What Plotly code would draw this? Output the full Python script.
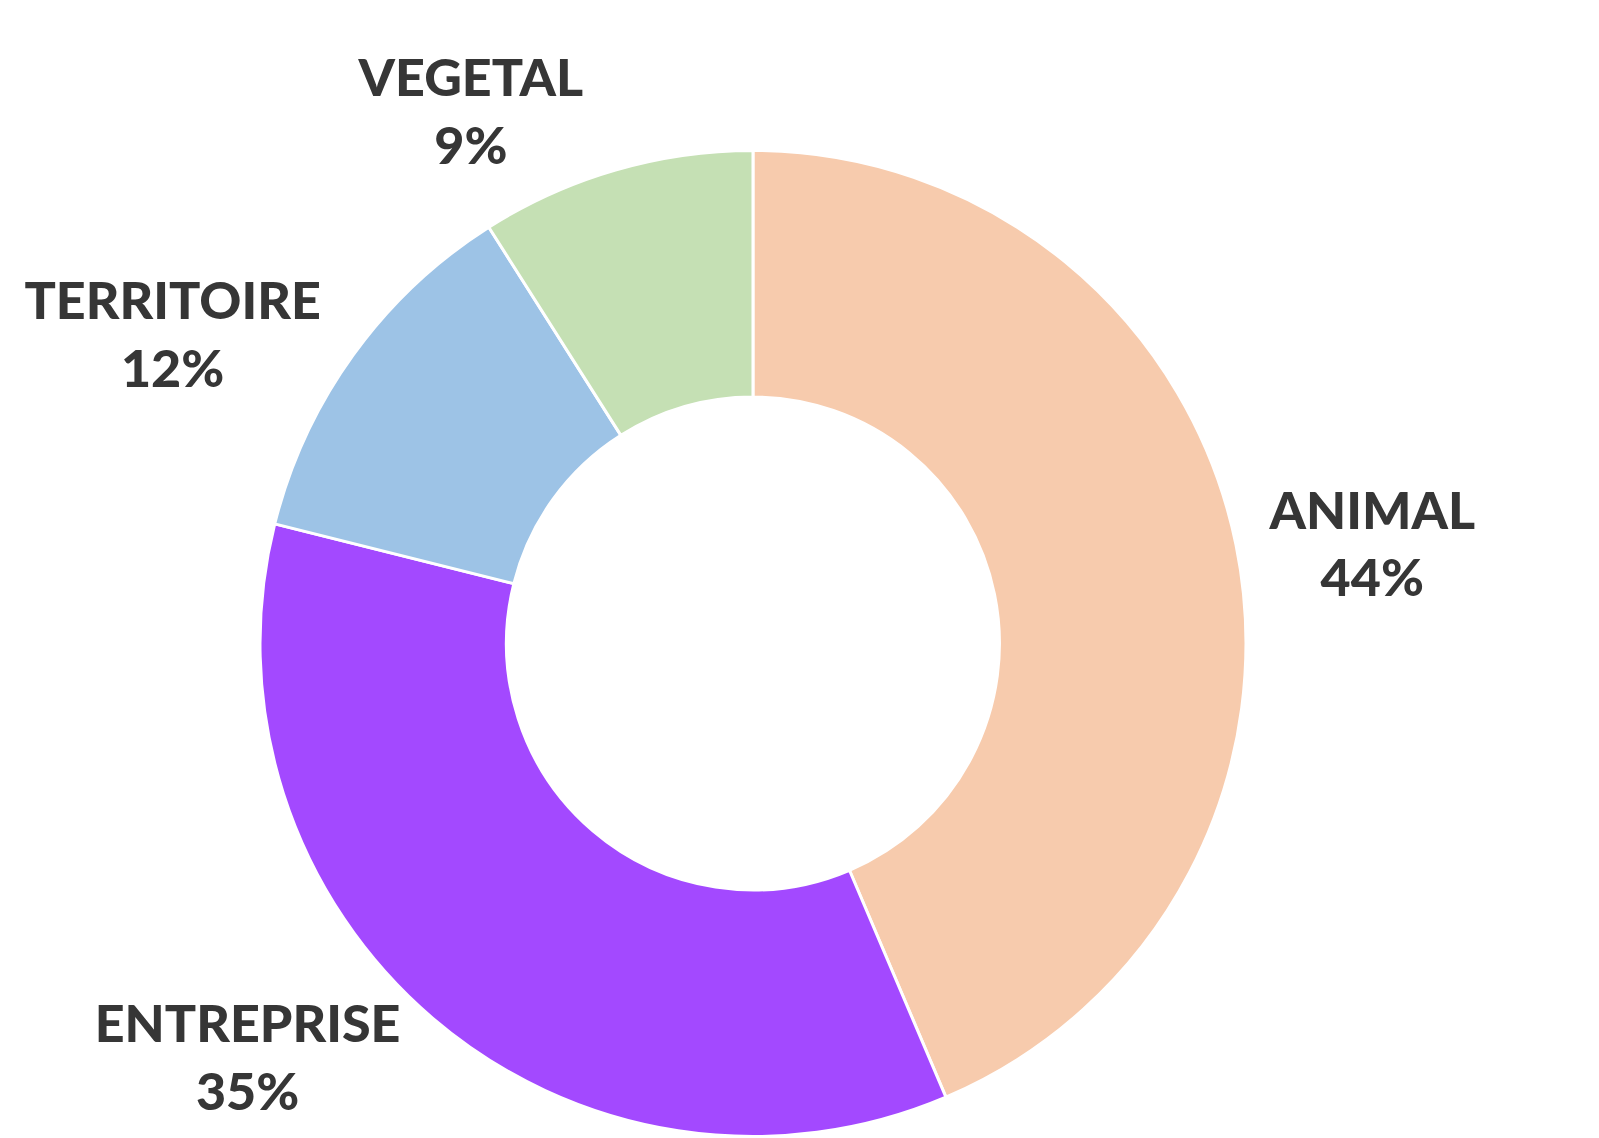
import plotly.graph_objects as go

labels = ["ANIMAL", "ENTREPRISE", "TERRITOIRE", "VEGETAL"]
values = [43.6, 35.3, 12.1, 9.0]
colors = ["#F7CBAD", "#A349FF", "#9DC3E6", "#C5E0B4"]

fig = go.Figure(go.Pie(
    labels=labels,
    values=values,
    hole=0.5,
    sort=False,
    direction="clockwise",
    rotation=0,
    marker=dict(colors=colors, line=dict(color="white", width=3)),
    texttemplate="%{label}<br>%{percent:.0%}",
    textposition="outside",
    textfont=dict(family="Lato", size=52, color="#363636", weight=900),
    domain=dict(x=[0.1359, 0.7959], y=[0.0084, 0.8748]),
    showlegend=False,
    automargin=False,
))

fig.update_layout(
    width=1599, height=1138,
    margin=dict(l=0, r=0, t=0, b=0),
    paper_bgcolor="white",
    plot_bgcolor="white",
)

fig.write_html("out.html")
